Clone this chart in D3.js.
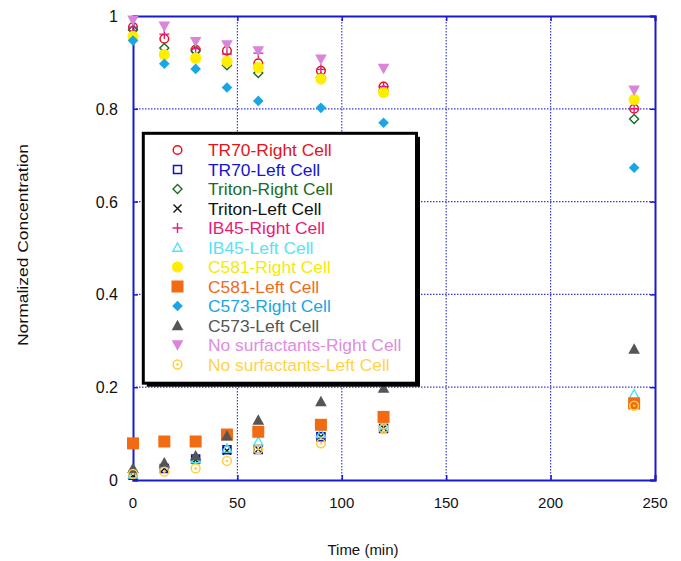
<!DOCTYPE html>
<html>
<head>
<meta charset="utf-8">
<script src="https://cdn.jsdelivr.net/npm/d3@7"></script>
<style>
  html, body { margin: 0; padding: 0; background: #fff; }
  svg { display: block; font-family: "Liberation Sans", Arial, sans-serif; }
</style>
</head>
<body>
<svg id="chart" width="681" height="561"></svg>
<script>
// ---- Data ----
const times = [0, 15, 30, 45, 60, 90, 120, 240];
const seriesNames = [
  "TR70-Right Cell", "TR70-Left Cell", "Triton-Right Cell", "Triton-Left Cell",
  "IB45-Right Cell", "IB45-Left Cell", "C581-Right Cell", "C581-Left Cell",
  "C573-Right Cell", "C573-Left Cell", "No surfactants-Right Cell", "No surfactants-Left Cell"
];
const tr70Right    = [0.976, 0.951, 0.927, 0.925, 0.898, 0.882, 0.848, 0.800];
const tr70Left     = [0.010, 0.025, 0.045, 0.065, 0.066, 0.093, 0.111, 0.165];
const tritonRight  = [0.970, 0.931, 0.925, 0.894, 0.877, 0.868, 0.840, 0.778];
const tritonLeft   = [0.010, 0.025, 0.043, 0.063, 0.066, 0.093, 0.112, 0.163];
const ib45Right    = [0.976, 0.961, 0.930, 0.918, 0.920, 0.885, 0.848, 0.800];
const ib45Left     = [0.012, 0.035, 0.045, 0.068, 0.083, 0.100, 0.118, 0.185];
const c581Right    = [0.956, 0.917, 0.909, 0.902, 0.889, 0.864, 0.835, 0.820];
const c581Left     = [0.079, 0.083, 0.083, 0.098, 0.104, 0.119, 0.136, 0.165];
const c573Right    = [0.947, 0.897, 0.886, 0.846, 0.817, 0.802, 0.770, 0.673];
const c573Left     = [0.025, 0.037, 0.052, 0.095, 0.129, 0.169, 0.198, 0.282];
const noSurfRight  = [0.991, 0.978, 0.945, 0.938, 0.925, 0.907, 0.887, 0.840];
const noSurfLeft   = [0.013, 0.018, 0.025, 0.041, 0.066, 0.079, 0.111, 0.160];
const seriesValues = [tr70Right, tr70Left, tritonRight, tritonLeft, ib45Right, ib45Left,
  c581Right, c581Left, c573Right, c573Left, noSurfRight, noSurfLeft];
const xTicks = [0, 50, 100, 150, 200, 250];
const yTicks = [0, 0.2, 0.4, 0.6, 0.8, 1];

// ---- Styles ----
const styles = [
  { shape: "circle",   size: 4.3, fill: "none", stroke: "#e3141b", sw: 1.5, text: "#e3141b" },
  { shape: "square",   size: 4,   fill: "none", stroke: "#1212cc", sw: 1.5, text: "#1414cc" },
  { shape: "diamond",  size: 4.5, fill: "none", stroke: "#1d6b27", sw: 1.4, text: "#1d6b27" },
  { shape: "x",        size: 4,   fill: "none", stroke: "#111111", sw: 1.4, text: "#111111" },
  { shape: "plus",     size: 5,   fill: "none", stroke: "#e8197a", sw: 1.4, text: "#e8197a" },
  { shape: "triup",    size: 4.6, fill: "none", stroke: "#4fe3f5", sw: 1.4, text: "#55e3f5" },
  { shape: "circle",   size: 5.6, fill: "#ffee00", stroke: "none", sw: 0, text: "#f5ea00" },
  { shape: "square",   size: 6,   fill: "#f26a12", stroke: "none", sw: 0, text: "#f06a1a" },
  { shape: "diamond",  size: 5.3, fill: "#19a6e2", stroke: "none", sw: 0, text: "#19a6e2" },
  { shape: "triup",    size: 5.8, fill: "#555555", stroke: "none", sw: 0, text: "#555555" },
  { shape: "tridown",  size: 5.8, fill: "#d985d9", stroke: "none", sw: 0, text: "#e08ce0" },
  { shape: "dotcircle",size: 4.4, fill: "none", stroke: "#ffcf3c", sw: 1.5, text: "#ffd24a" }
];

function shapePath(shape, s) {
  switch (shape) {
    case "circle":
    case "dotcircle":
      return `M${s},0A${s},${s} 0 1,1 ${-s},0A${s},${s} 0 1,1 ${s},0Z`;
    case "square":
      return `M${-s},${-s}H${s}V${s}H${-s}Z`;
    case "diamond":
      return `M0,${-s}L${s},0L0,${s}L${-s},0Z`;
    case "triup":
      return `M0,${-s}L${s},${s*0.8}L${-s},${s*0.8}Z`;
    case "tridown":
      return `M0,${s}L${s},${-s*0.8}L${-s},${-s*0.8}Z`;
    case "plus":
      return `M${-s},0H${s}M0,${-s}V${s}`;
    case "x":
      return `M${-s},${-s}L${s},${s}M${-s},${s}L${s},${-s}`;
  }
}

function drawMarker(g, st, x, y) {
  const grp = g.append("g").attr("transform", `translate(${x},${y})`);
  grp.append("path")
    .attr("d", shapePath(st.shape, st.size))
    .attr("fill", st.fill)
    .attr("stroke", st.stroke)
    .attr("stroke-width", st.sw);
  if (st.shape === "dotcircle") {
    grp.append("circle").attr("r", 1.3).attr("fill", st.stroke);
  }
}

// ---- Layout ----
const svg = d3.select("#chart");
const x = d3.scaleLinear().domain([0, 250]).range([133, 655]);
const y = d3.scaleLinear().domain([0, 1]).range([480, 16]);
const axisColor = "#1a1acc";

// grid
const grid = svg.append("g");
grid.selectAll("line.vg").data(xTicks.slice(1, -1)).enter().append("line")
  .attr("x1", d => x(d)).attr("x2", d => x(d))
  .attr("y1", y(1)).attr("y2", y(0))
  .attr("stroke", "#3a3ae0").attr("stroke-width", 1.2).attr("stroke-dasharray", "1.5,1.5");
grid.selectAll("line.hg").data(yTicks.slice(1, -1)).enter().append("line")
  .attr("x1", x(0)).attr("x2", x(250))
  .attr("y1", d => y(d)).attr("y2", d => y(d))
  .attr("stroke", "#3a3ae0").attr("stroke-width", 1.2).attr("stroke-dasharray", "1.5,1.5");

// axes (frame with inward ticks)
const axB = svg.append("g").attr("transform", `translate(0,${y(0)})`)
  .call(d3.axisBottom(x).tickValues(xTicks).tickSize(-5).tickFormat(""));
const axT = svg.append("g").attr("transform", `translate(0,${y(1)})`)
  .call(d3.axisTop(x).tickValues(xTicks).tickSize(-5).tickFormat(""));
const axL = svg.append("g").attr("transform", `translate(${x(0)},0)`)
  .call(d3.axisLeft(y).tickValues(yTicks).tickSize(-5).tickFormat(""));
const axR = svg.append("g").attr("transform", `translate(${x(250)},0)`)
  .call(d3.axisRight(y).tickValues(yTicks).tickSize(-5).tickFormat(""));
[axB, axT, axL, axR].forEach(a => {
  a.selectAll(".domain").attr("stroke", axisColor).attr("stroke-width", 2);
  a.selectAll(".tick line").attr("stroke", axisColor).attr("stroke-width", 1.5);
});

// tick labels
svg.append("g").selectAll("text").data(xTicks).enter().append("text")
  .attr("x", d => x(d)).attr("y", 508)
  .attr("text-anchor", "middle").attr("font-size", 15).attr("fill", "#111")
  .text(d => d);
svg.append("g").selectAll("text").data(yTicks).enter().append("text")
  .attr("x", 118).attr("y", d => y(d) + 6)
  .attr("text-anchor", "end").attr("font-size", 16).attr("fill", "#111")
  .text(d => d3.format("")(d));

// axis titles
svg.append("text").attr("x", 363).attr("y", 555)
  .attr("text-anchor", "middle").attr("font-size", 15).attr("fill", "#111")
  .text("Time (min)");
svg.append("text").attr("transform", "translate(28,245) rotate(-90)")
  .attr("text-anchor", "middle").attr("font-size", 15).attr("fill", "#111")
  .attr("textLength", 202).attr("lengthAdjust", "spacingAndGlyphs")
  .text("Normalized Concentration");

// data points
const pts = svg.append("g");
seriesValues.forEach((vals, i) => {
  vals.forEach((v, j) => drawMarker(pts, styles[i], x(times[j]), y(v)));
});

// legend
const lg = svg.append("g");
lg.append("rect").attr("x", 146.8).attr("y", 136.8).attr("width", 273.2).attr("height", 249.9)
  .attr("fill", "#000");
lg.append("rect").attr("x", 143.3).attr("y", 133.3).attr("width", 273.2).attr("height", 249.9)
  .attr("fill", "#fff").attr("stroke", "#000").attr("stroke-width", 3);
seriesNames.forEach((name, i) => {
  const cy = 150 + i * 19.5;
  drawMarker(lg, styles[i], 177.5, cy);
  lg.append("text").attr("x", 208).attr("y", cy + 6)
    .attr("font-size", 17.4).attr("fill", styles[i].text).text(name);
});
</script>
</body>
</html>
